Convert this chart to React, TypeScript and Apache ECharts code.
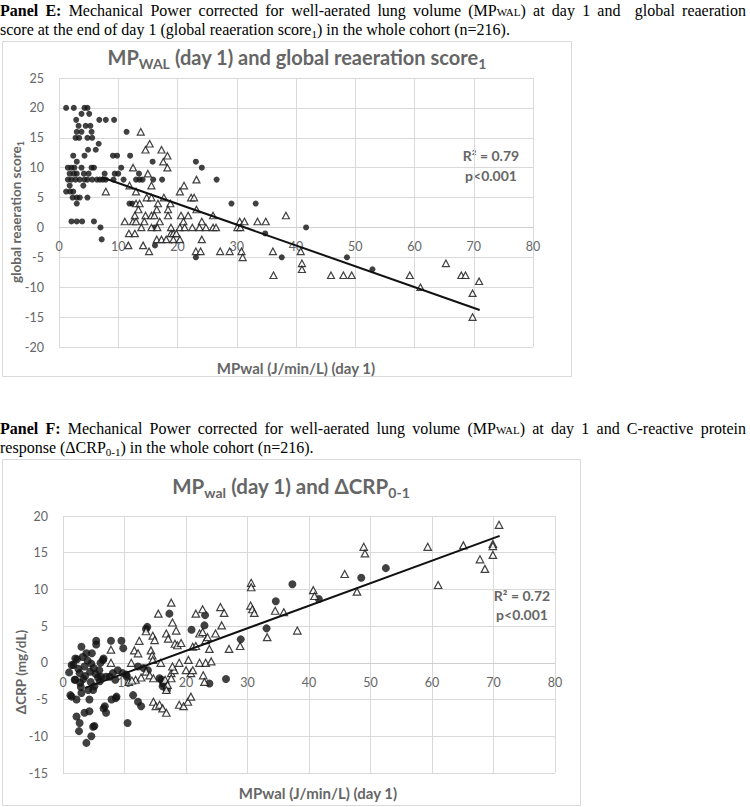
import React, { useEffect, useRef } from 'react';
import * as echarts from 'echarts';

// Panel E : MPwal (x) vs global reaeration score (y)
const eCircles: number[][] = [
  [1.2, 20], [2.5, 20], [4.3, 20], [4.8, 20],
  [3.8, 19], [5.1, 19],
  [2.9, 18], [6.8, 18], [7.9, 18], [9.3, 18],
  [3.3, 17], [4.5, 17], [5.3, 17],
  [3.0, 16], [3.8, 16], [5.5, 16], [11.4, 16],
  [2.8, 15], [3.4, 15], [4.8, 15], [5.6, 15],
  [6.7, 14],
  [4.9, 13], [6.2, 13],
  [2.4, 12], [4.3, 12], [9.1, 12], [9.8, 12], [12.0, 12],
  [3.0, 11], [15.8, 11], [23.1, 11],
  [1.5, 10], [2.1, 10], [2.6, 10], [3.8, 10], [5.5, 10], [5.9, 10], [10.5, 10], [24.1, 10],
  [1.8, 9], [2.5, 9], [3.0, 9], [4.2, 9], [5.0, 9], [7.7, 9], [9.4, 9], [10.0, 9], [13.5, 9],
  [1.5, 8], [2.1, 8], [2.8, 8], [3.5, 8], [4.3, 8], [4.8, 8], [5.6, 8], [6.4, 8], [6.9, 8], [7.4, 8],
  [7.9, 8], [9.2, 8], [10.9, 8], [13.0, 8], [13.6, 8], [14.1, 8], [15.9, 8], [17.4, 8], [26.6, 8],
  [1.8, 7], [4.1, 7],
  [1.2, 6], [1.9, 6], [2.4, 6],
  [2.3, 5], [3.0, 5], [3.5, 5], [4.8, 5],
  [3.0, 4], [11.9, 4], [12.4, 4], [29.1, 4], [33.2, 4],
  [2.1, 1], [3.0, 1], [3.9, 1], [5.9, 1],
  [7.0, 0], [16.1, 0], [41.7, 0],
  [34.8, -1], [7.2, -2], [16.2, -3],
  [23.1, -5], [37.6, -5], [48.6, -5],
  [52.9, -7],
];
const eTriangles: number[][] = [
  [13.8, 16], [15.3, 14], [14.6, 13], [17.3, 13], [18.3, 12], [17.6, 11], [12.5, 10], [18.3, 10],
  [15.0, 9], [23.2, 8], [11.9, 7], [21.1, 7], [15.6, 7], [7.9, 6], [13.0, 6], [20.4, 6],
  [14.8, 5], [15.6, 5], [17.7, 5], [22.3, 5], [22.8, 5], [13.0, 4], [13.6, 4], [16.7, 4], [18.8, 4],
  [13.4, 3], [16.5, 3], [18.4, 3], [23.2, 3],
  [12.8, 2], [14.6, 2], [15.6, 2], [16.1, 2], [18.4, 2], [20.6, 2], [21.8, 2], [26.0, 2], [38.3, 2],
  [11.1, 1], [12.5, 1], [13.0, 1], [14.4, 1], [17.0, 1], [21.0, 1], [24.1, 1], [30.5, 1], [31.3, 1], [33.5, 1], [34.9, 1],
  [13.9, 0], [15.6, 0], [16.6, 0], [18.9, 0], [20.4, 0], [21.2, 0], [22.5, 0], [23.7, 0], [24.8, 0],
  [26.0, 0], [26.5, 0], [30.1, 0], [30.6, 0],
  [11.8, -1], [12.8, -1], [18.9, -1], [19.3, -1], [19.8, -1],
  [16.5, -2], [17.3, -2], [18.1, -2], [19.3, -2], [20.4, -2], [24.1, -2],
  [11.7, -3], [14.2, -3],
  [15.2, -4], [23.1, -4], [23.9, -4], [27.2, -4], [28.8, -4], [30.8, -4], [36.1, -4], [40.8, -4],
  [31.0, -5], [41.0, -6], [41.0, -7],
  [36.2, -8], [45.9, -8], [48.0, -8], [49.4, -8], [59.2, -8], [61.0, -10], [65.3, -6],
  [67.9, -8], [68.6, -8], [70.9, -9], [69.8, -11], [69.8, -15],
];
const eTrend: number[][] = [[7.2, 8.4], [71, -13.8]];

// Panel F : MPwal (x) vs delta CRP (y)
const fCircles: number[][] = [
  [1.4, -0.3], [1.2, -4.4], [3.0, 2.2], [1.9, -2.3], [2.2, -5.0], [2.2, -7.3], [2.7, -8.2], [2.6, -9.3],
  [3.8, -10.9], [4.6, -10.0], [5.1, -8.6], [3.5, -6.8], [4.3, -6.6], [3.0, -4.1], [4.1, -3.7], [5.1, -3.2],
  [4.3, -5.0], [2.7, -1.4], [3.5, -0.5], [3.8, 1.3], [4.6, -0.1], [5.4, 2.5], [5.4, 3.0], [5.9, -1.0],
  [6.5, 0.4], [7.0, -1.9], [6.2, -1.9], [5.7, -2.0], [6.8, -5.9], [7.0, -6.8], [7.8, 3.0], [8.1, -1.4],
  [8.6, -4.8], [8.9, -1.0], [9.5, 3.0], [9.8, 2.0], [9.7, -1.4], [10.3, -1.6], [11.4, -4.4], [12.2, -5.3],
  [12.7, -5.9], [10.5, -8.2], [13.5, 4.6], [13.8, -1.0], [15.7, -2.1], [16.2, -3.2], [17.3, 6.7],
  [20.9, 4.5], [23.1, 6.5], [23.0, 5.1], [23.8, -2.8], [26.5, -2.2], [28.9, 3.2], [33.1, 4.7],
  [34.6, 8.4], [37.3, 10.7], [41.6, 8.7], [48.5, 11.6], [52.5, 12.9],
  [4.7, 1.3], [6.6, 0.6], [1.7, -0.3], [2.0, -2.3], [2.8, -2.7], [4.9, -3.7], [1.4, -4.6], [7.6, -1.9],
  [8.5, -2.3], [10.4, -1.9], [16.0, -2.3], [16.9, -3.7], [8.7, -4.6], [7.9, -5.0], [6.6, -6.2], [4.9, -8.7],
  [2.3, 0.5], [3.2, 0.8], [3.6, -1.8], [4.4, -1.2], [2.9, -3.3], [5.3, -1.5], [6.0, -2.5], [3.3, -2.2],
  [2.5, -0.8], [4.0, 0.3], [1.0, -1.3], [2.0, 0.6], [5.0, -0.7], [6.1, 0.0], [4.5, -2.6],
  [12.2, -0.5], [13.1, -0.7], [16.3, -2.8], [13.7, 4.9],
];
const fTriangles: number[][] = [
  [7.8, 1.8], [7.8, 0], [11.1, 0], [11.6, 1.7], [12.2, 1.3], [12.4, 3.0], [11.8, -2.3], [12.7, -2.0],
  [13.5, 4.3], [14.6, 3.7], [14.9, 3.1], [14.3, 1.7], [14.5, 1.0], [14.6, 0.4], [13.5, -1.2], [14.1, -1.7],
  [14.7, -2.1], [15.5, 6.7], [15.9, 0], [16.8, 4.0], [17.1, 3.3], [16.6, -2.3], [17.0, -3.0], [16.8, -3.7],
  [17.6, 8.2], [17.8, 5.5], [18.2, 2.6], [18.6, 2.4], [19.2, 2.7], [18.4, 4.4], [17.6, -1.4], [18.1, -1.0],
  [17.6, -2.1], [18.9, 0], [20.4, 0.4], [14.7, -5.3], [15.1, -5.9], [15.7, -5.7], [16.2, -6.2], [16.8, -6.8],
  [18.9, -5.7], [19.6, -5.9], [20.3, -5.3], [20.8, -4.6], [17.8, -0.5], [20.0, -1.0], [20.8, -1.4],
  [21.1, 2.2], [21.6, 2.3], [21.6, 6.7], [22.7, 7.3], [22.2, 4.0], [22.7, 4.2], [23.2, 3.1], [23.5, 3.5],
  [23.8, 1.9], [22.2, 0], [23.2, 0], [24.1, 0.2], [21.1, -1.0], [22.8, -1.7], [23.0, -2.6], [24.8, 4.0],
  [25.6, 7.6], [26.2, 6.8], [25.8, 5.1], [27.0, 1.9], [28.8, 2.3], [30.6, 10.9], [30.6, 10.3], [30.5, 7.8],
  [30.8, 7.3], [31.1, 6.8], [33.2, 3.5], [34.5, 7.1], [35.9, 6.9], [38.1, 4.4], [40.7, 9.9], [40.9, 9.1],
  [45.8, 12.1], [47.8, 9.7], [48.9, 15.8], [49.1, 14.9], [59.3, 15.8], [61.0, 10.6], [65.1, 16.0],
  [67.8, 14.1], [68.6, 12.8], [69.9, 16.2], [69.9, 15.9], [69.9, 14.7], [70.9, 18.8],
  [10.7, -2.6], [11.2, -2.4],
];
const fTrend: number[][] = [[3.6, -3.4], [71, 17.3]];

const xRange = { min: 0, max: 80, interval: 10 };
const eYRange = { min: -20, max: 25, interval: 5 };
const fYRange = { min: -15, max: 20, interval: 5 };

const titleE = 'MP{s|WAL} (day 1) and global reaeration score{s|1}';
const titleF = 'MP{s|wal} (day 1) and ΔCRP{s|0-1}';
const yNameE = 'global reaeration score{s|1}';
const yNameF = 'ΔCRP (mg/dL)';
const xNameE = 'MPwal (J/min/L) (day 1)';
const xNameF = 'MPwal (J/min/L) (day 1)';
const statE = ['R² = 0.79', 'p<0.001'];
const statF = ['R² = 0.72', 'p<0.001'];

const SANS = 'Lato';
const SERIF = '"Liberation Serif", "Times New Roman", serif';
const GRAY = '#666666';
const GRID = '#d9d9d9';

const gridE = { left: 59, top: 78, width: 474, height: 269 };
const gridF = { left: 63, top: 516, width: 492, height: 257 };

function chartText(x: number, y: number, text: string, size: number, opts: any = {}) {
  return {
    type: 'text', x, y, rotation: opts.rotation || 0,
    style: {
      text, fill: GRAY, fontFamily: SANS, fontSize: size, fontWeight: 'bold',
      textAlign: opts.align || 'center', textVerticalAlign: 'middle',
      rich: {
        s: { fontFamily: SANS, fontSize: Math.round(size * 0.68), fontWeight: 'bold', fill: GRAY, padding: [Math.round(size * 0.6), 0, 0, 0] },
      },
    },
  };
}

function axes(gridIndex: number, yr: { min: number; max: number; interval: number }, height: number) {
  const zeroOffset = -height * (0 - yr.min) / (yr.max - yr.min);
  const x = {
    type: 'value', gridIndex, ...xRange, position: 'bottom', offset: zeroOffset,
    axisLine: { show: true, onZero: false, lineStyle: { color: '#cfcfcf', width: 1 } },
    axisTick: { show: false },
    axisLabel: { color: GRAY, fontFamily: SANS, fontSize: 12.5, margin: 13, showMinLabel: true, showMaxLabel: true },
    splitLine: { show: true, lineStyle: { color: GRID, width: 1 } },
  };
  const y = {
    type: 'value', gridIndex, ...yr,
    axisLine: { show: false },
    axisTick: { show: false },
    axisLabel: { color: GRAY, fontFamily: SANS, fontSize: 12.5, margin: 15, showMinLabel: true, showMaxLabel: true },
    splitLine: { show: true, lineStyle: { color: GRID, width: 1 } },
  };
  return { x, y };
}

const capBase: React.CSSProperties = {
  position: 'absolute', left: 0, width: 746, fontFamily: SERIF, fontSize: 16,
  lineHeight: '19px', color: '#000', whiteSpace: 'nowrap',
};
const justify: React.CSSProperties = { ...capBase, textAlign: 'justify', textAlignLast: 'justify', whiteSpace: 'normal' };
const small: React.CSSProperties = { fontSize: 11 };
const sub: React.CSSProperties = { fontSize: 11, verticalAlign: -3, lineHeight: 0 };

export default function App() {
  const ref = useRef<HTMLDivElement>(null);
  useEffect(() => {
    document.body.style.margin = '0';
    const chart = echarts.init(ref.current!, undefined, { renderer: 'svg' });
    const aE = axes(0, eYRange, gridE.height);
    const aF = axes(1, fYRange, gridF.height);
    const triStyle = { symbol: 'triangle', itemStyle: { color: '#fff', borderColor: '#111', borderWidth: 1.2 } };
    chart.setOption({
      animation: false,
      grid: [gridE, gridF],
      xAxis: [aE.x, aF.x],
      yAxis: [aE.y, aF.y],
      series: [
        { type: 'scatter', xAxisIndex: 0, yAxisIndex: 0, data: eCircles, symbol: 'circle', symbolSize: 6, itemStyle: { color: '#111' }, z: 3 },
        { type: 'scatter', xAxisIndex: 0, yAxisIndex: 0, data: eTriangles, ...triStyle, symbolSize: [7, 6.5], z: 3 },
        { type: 'line', xAxisIndex: 0, yAxisIndex: 0, data: eTrend, symbol: 'none', lineStyle: { color: '#111', width: 2 }, z: 4 },
        { type: 'scatter', xAxisIndex: 1, yAxisIndex: 1, data: fCircles, symbol: 'circle', symbolSize: 8, itemStyle: { color: '#111' }, z: 3 },
        { type: 'scatter', xAxisIndex: 1, yAxisIndex: 1, data: fTriangles, ...triStyle, symbolSize: [7.5, 7], z: 3 },
        { type: 'line', xAxisIndex: 1, yAxisIndex: 1, data: fTrend, symbol: 'none', lineStyle: { color: '#111', width: 2 }, z: 4 },
      ],
      graphic: [
        { type: 'rect', shape: { x: 2.5, y: 41.5, width: 569, height: 335 }, style: { fill: 'none', stroke: GRID, lineWidth: 1 } },
        { type: 'rect', shape: { x: 2.5, y: 459.5, width: 578, height: 346 }, style: { fill: 'none', stroke: GRID, lineWidth: 1 } },
        chartText(297, 57, titleE, 20),
        chartText(291, 486, titleF, 20.5),
        chartText(16, 212, yNameE, 13.5, { rotation: Math.PI / 2 }),
        chartText(21, 672, yNameF, 13.5, { rotation: Math.PI / 2 }),
        chartText(296, 368, xNameE, 15),
        chartText(318, 793, xNameF, 15),
        chartText(491, 155, statE[0], 14),
        chartText(491, 175, statE[1], 14),
        chartText(522, 595, statF[0], 14),
        chartText(522, 614, statF[1], 14),
      ],
    });
    return () => chart.dispose();
  }, []);
  return (
    <div style={{ position: 'relative', width: 750, height: 807, background: '#fff', overflow: 'hidden' }}>
      <div ref={ref} style={{ position: 'absolute', left: 0, top: 0, width: 750, height: 807 }} />
      <div style={{ ...justify, top: 0.5 }}>
        <b>Panel E:</b> Mechanical Power corrected for well-aerated lung volume (MP<span style={small}>WAL</span>) at day 1 and{'\u00a0'} global reaeration
      </div>
      <div style={{ ...capBase, top: 19.5 }}>
        score at the end of day 1 (global reaeration score<span style={sub}>1</span>) in the whole cohort (n=216).
      </div>
      <div style={{ ...justify, top: 418.5 }}>
        <b>Panel F:</b> Mechanical Power corrected for well-aerated lung volume (MP<span style={small}>WAL</span>) at day 1 and C-reactive protein
      </div>
      <div style={{ ...capBase, top: 437.5 }}>
        response (ΔCRP<span style={sub}>0-1</span>) in the whole cohort (n=216).
      </div>
    </div>
  );
}
